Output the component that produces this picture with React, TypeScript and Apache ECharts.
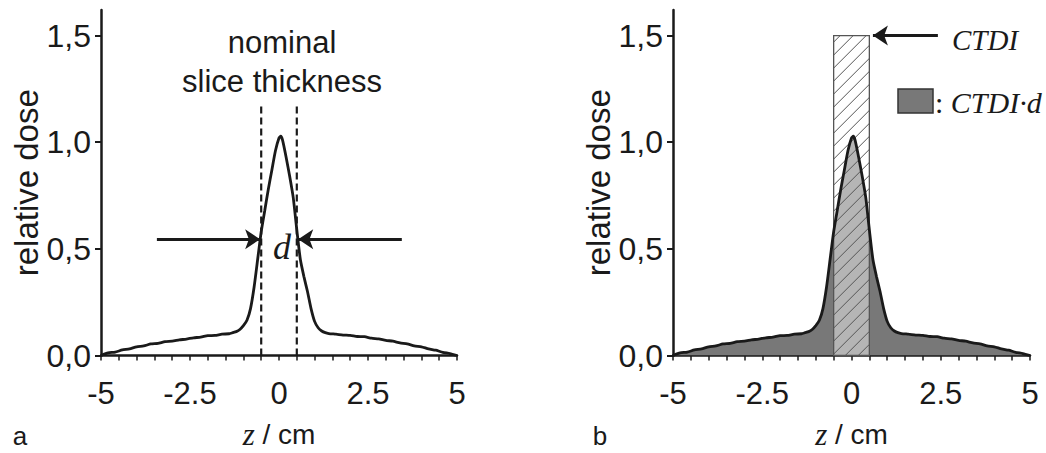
import React, { useEffect, useRef } from "react";
import * as echarts from "echarts";

// ---- data ----
const zVals = [
  -5, -4.8, -4.6, -4.4, -4.2, -4.0, -3.8, -3.6, -3.4, -3.2, -3.0, -2.8, -2.6, -2.4, -2.2, -2.0,
  -1.8, -1.6, -1.4, -1.3, -1.2, -1.1, -1.0, -0.9, -0.8, -0.7, -0.6, -0.5, -0.4, -0.3, -0.2, -0.1,
  0.0, 0.05, 0.1, 0.2, 0.3, 0.4, 0.5, 0.6, 0.7, 0.8, 0.9, 1.0, 1.1, 1.2, 1.3, 1.4, 1.6, 1.8, 2.0,
  2.2, 2.4, 2.6, 2.8, 3.0, 3.2, 3.4, 3.6, 3.8, 4.0, 4.2, 4.4, 4.6, 4.8, 5.0,
];
const doseVals = [
  0.0, 0.012, 0.016, 0.026, 0.031, 0.041, 0.045, 0.054, 0.057, 0.065, 0.067, 0.073, 0.077, 0.083, 0.086, 0.093,
  0.094, 0.1, 0.102, 0.107, 0.112, 0.122, 0.14, 0.165, 0.22, 0.32, 0.45, 0.58, 0.68, 0.78, 0.87, 0.96,
  1.02, 1.028, 1.01, 0.93, 0.84, 0.74, 0.59, 0.45, 0.37, 0.3, 0.22, 0.16, 0.13, 0.115, 0.107, 0.103, 0.1, 0.096, 0.094,
  0.089, 0.088, 0.081, 0.078, 0.071, 0.067, 0.059, 0.055, 0.045, 0.041, 0.031, 0.025, 0.015, 0.009, 0.0,
];
const xTickLabels = [-5, -2.5, 0, 2.5, 5];
const xMinorTicks = [-5, -4.5, -4, -3.5, -3, -2.5, -2, -1.5, -1, -0.5, 0, 0.5, 1, 1.5, 2, 2.5, 3, 3.5, 4, 4.5, 5];
const yTickValues = [0, 0.5, 1.0, 1.5];
const sliceEdges = [-0.5, 0.5];
const sliceLineTop = 1.17;
const halfMaxLevel = 0.545;
const leftArrow = [-3.43, -0.53];
const rightArrow = [3.45, 0.54];
const ctdiBand = [-0.5, 0.5];
const ctdiLevel = 1.5;
const ctdiArrow = [2.42, 0.6];

const SANS = "'Liberation Sans', Arial, sans-serif";
const SERIF = "'Liberation Serif', 'Times New Roman', serif";
const INK = "#1a1a1a";

const curve = zVals.map((z, i) => [z, doseVals[i]]);

function axes(gi: number) {
  const xAxis = {
    type: "value",
    gridIndex: gi,
    min: -5,
    max: 5,
    interval: 2.5,
    splitLine: { show: false },
    axisLine: { onZero: false, lineStyle: { color: INK, width: 2.5 } },
    axisTick: { customValues: xMinorTicks, length: 5, lineStyle: { color: INK, width: 1.5 } },
    axisLabel: {
      customValues: xTickLabels,
      formatter: (v: number) => String(v),
      fontFamily: SANS,
      fontSize: 31,
      color: INK,
      margin: 22,
    },
    name: "{i|z} / cm",
    nameLocation: "middle",
    nameGap: 64,
    nameTextStyle: {
      fontFamily: SANS,
      fontSize: 28,
      lineHeight: 30,
      color: INK,
      rich: {
        i: { fontFamily: SERIF, fontStyle: "italic", fontSize: 31, lineHeight: 30, color: INK },
      },
    },
  };
  const yAxis = {
    type: "value",
    gridIndex: gi,
    min: 0,
    max: 1.62,
    interval: 0.5,
    splitLine: { show: false },
    axisLine: { onZero: false, lineStyle: { color: INK, width: 2.5 } },
    axisTick: { customValues: yTickValues, length: 6, lineStyle: { color: INK, width: 2 } },
    axisLabel: {
      customValues: yTickValues,
      formatter: (v: number) => v.toFixed(1).replace(".", ","),
      fontFamily: SANS,
      fontSize: 32,
      color: INK,
      margin: 10,
    },
    name: "relative dose",
    nameLocation: "middle",
    nameRotate: 90,
    nameGap: 52,
    nameTextStyle: { fontFamily: SANS, fontSize: 33, color: INK },
  };
  return { xAxis, yAxis };
}

function hatchRect(params: any, api: any) {
  const tl = api.coord([api.value(0), api.value(2)]);
  const br = api.coord([api.value(1), 0]);
  const x0 = tl[0], y0 = tl[1], x1 = br[0], y1 = br[1];
  const children: any[] = [
    {
      type: "rect",
      shape: { x: x0, y: y0, width: x1 - x0, height: y1 - y0 },
      style: { fill: "rgba(255,255,255,0.45)", stroke: "#555", lineWidth: 1.3 },
    },
  ];
  const step = 13;
  for (let c = x0 + y0 + step / 2; c < x1 + y1; c += step) {
    const xa = Math.max(x0, c - y1);
    const xb = Math.min(x1, c - y0);
    if (xb > xa) {
      children.push({
        type: "line",
        shape: { x1: xa, y1: c - xa, x2: xb, y2: c - xb },
        style: { stroke: "#555", lineWidth: 1 },
      });
    }
  }
  return { type: "group", children };
}

export default function App() {
  const ref = useRef<HTMLDivElement>(null);
  useEffect(() => {
    document.body.style.margin = "0";
    if (!ref.current) return;
    const chart = echarts.init(ref.current, null, { renderer: "svg" });
    const a = axes(0);
    const b = axes(1);
    const option: any = {
      animation: false,
      backgroundColor: "#ffffff",
      grid: [
        { left: 101, width: 356, top: 10, bottom: 97.5, outerBoundsMode: "none", containLabel: false },
        { left: 673, width: 357, top: 10, bottom: 97.5, outerBoundsMode: "none", containLabel: false },
      ],
      xAxis: [a.xAxis, b.xAxis],
      yAxis: [a.yAxis, b.yAxis],
      series: [
        {
          type: "line",
          xAxisIndex: 0,
          yAxisIndex: 0,
          data: curve,
          showSymbol: false,
          smooth: 0.2,
          lineStyle: { color: INK, width: 2.8 },
          z: 3,
          markLine: {
            silent: true,
            symbol: ["none", "arrow"],
            symbolSize: [15, 15],
            label: { show: false },
            lineStyle: { color: INK, width: 3, type: "solid" },
            data: [
              [{ coord: [leftArrow[0], halfMaxLevel] }, { coord: [leftArrow[1], halfMaxLevel] }],
              [{ coord: [rightArrow[0], halfMaxLevel] }, { coord: [rightArrow[1], halfMaxLevel] }],
            ],
          },
        },
        ...sliceEdges.map((e) => ({
          type: "line",
          xAxisIndex: 0,
          yAxisIndex: 0,
          data: [
            [e, 0],
            [e, sliceLineTop],
          ],
          showSymbol: false,
          lineStyle: { color: INK, width: 2.2, type: [7, 4] },
          z: 2,
        })),
        {
          type: "line",
          xAxisIndex: 1,
          yAxisIndex: 1,
          data: curve,
          showSymbol: false,
          smooth: 0.2,
          lineStyle: { width: 0 },
          areaStyle: { color: "#787878", opacity: 1 },
          z: 1,
        },
        {
          type: "custom",
          xAxisIndex: 1,
          yAxisIndex: 1,
          data: [[ctdiBand[0], ctdiBand[1], ctdiLevel]],
          encode: { x: [0, 1], y: 2 },
          renderItem: hatchRect,
          z: 2,
        },
        {
          type: "line",
          xAxisIndex: 1,
          yAxisIndex: 1,
          data: curve,
          showSymbol: false,
          smooth: 0.2,
          lineStyle: { color: INK, width: 2.8 },
          z: 3,
          markLine: {
            silent: true,
            symbol: ["none", "arrow"],
            symbolSize: [15, 15],
            label: { show: false },
            lineStyle: { color: INK, width: 3, type: "solid" },
            data: [[{ coord: [ctdiArrow[0], ctdiLevel] }, { coord: [ctdiArrow[1], ctdiLevel] }]],
          },
        },
      ],
      graphic: [
        {
          type: "text",
          x: 282,
          y: 62,
          style: {
            text: "nominal\nslice thickness",
            font: `31px ${SANS}`,
            fill: INK,
            align: "center",
            verticalAlign: "middle",
            lineHeight: 39,
          },
        },
        {
          type: "text",
          x: 282,
          y: 247,
          style: { text: "d", font: `italic 36px ${SERIF}`, fill: INK, align: "center", verticalAlign: "middle" },
        },
        {
          type: "text",
          x: 20,
          y: 436,
          style: { text: "a", font: `26px ${SANS}`, fill: INK, align: "center", verticalAlign: "middle" },
        },
        {
          type: "text",
          x: 600,
          y: 436,
          style: { text: "b", font: `26px ${SANS}`, fill: INK, align: "center", verticalAlign: "middle" },
        },
        {
          type: "text",
          x: 952,
          y: 40,
          style: { text: "CTDI", font: `italic 29px ${SERIF}`, fill: INK, align: "left", verticalAlign: "middle" },
        },
        {
          type: "rect",
          shape: { x: 898, y: 89, width: 35, height: 24 },
          style: { fill: "#787878", stroke: "#333", lineWidth: 1.5 },
        },
        {
          type: "text",
          x: 935,
          y: 102,
          style: {
            text: "{c|: }{t|CTDI·d}",
            fill: INK,
            align: "left",
            verticalAlign: "middle",
            rich: {
              c: { fontFamily: SERIF, fontSize: 30, fill: INK },
              t: { fontFamily: SERIF, fontStyle: "italic", fontSize: 30, fill: INK },
            },
          },
        },
      ],
    };
    chart.setOption(option);
    return () => chart.dispose();
  }, []);
  return <div ref={ref} style={{ width: 1046, height: 453 }} />;
}
